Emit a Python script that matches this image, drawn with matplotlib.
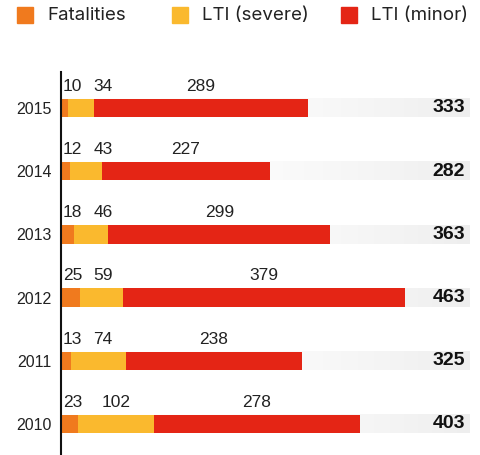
import numpy as np
import matplotlib.pyplot as plt
from matplotlib.patches import Rectangle

years = ['2010', '2011', '2012', '2013', '2014', '2015']
fatalities = [23, 13, 25, 18, 12, 10]
lti_severe = [102, 74, 59, 46, 43, 34]
lti_minor = [278, 238, 379, 299, 227, 289]
totals = [403, 325, 463, 363, 282, 333]

names = ['Fatalities', 'LTI (severe)', 'LTI (minor)']
colors = ['#F07A1E', '#FAB92E', '#E42515']

W, H = 481, 455
fig = plt.figure(figsize=(W / 100, H / 100), dpi=100)
# axes from x=61..470 px, y=72..455 px
ax = fig.add_axes([61 / W, 0, (470 - 61) / W, (455 - 72) / H])
xmax = (470 - 61) / 0.742
ymin = -(455 - 424) / 63.2
ymax = 5 + (108 - 72) / 63.2
bh = 18.5 / 63.2

num_font = 'Liberation Sans'

y = np.arange(len(years))

# grey band with a fade towards the right
grad = np.linspace(0, 1, 256) ** 2
band = np.ones((1, 256, 3)) - grad[None, :, None] * (1 - 0xEE / 255)
for yi in y:
    ax.imshow(band, extent=[0, xmax, yi - bh / 2, yi + bh / 2],
              aspect='auto', interpolation='bilinear', zorder=1)

series = [fatalities, lti_severe, lti_minor]
left = np.zeros(len(years))
for vals, c in zip(series, colors):
    ax.barh(y, vals, left=left, height=bh, color=c, zorder=2)
    left = left + np.array(vals)

# segment labels above the bars, pushed apart when they would collide
renderer = fig.canvas.get_renderer()
for i in y:
    start = 0
    prev_right = 2 / 0.742
    for vals in series:
        v = vals[i]
        cx = start + v / 2
        t = ax.text(cx, i + bh / 2 + 8 / 63.2, str(v), ha='center',
                    va='baseline', fontsize=12.5, family=num_font,
                    color='#222222', zorder=3)
        bb = t.get_window_extent(renderer)
        wdata = bb.width / 0.742
        if cx - wdata / 2 < prev_right:
            cx = prev_right + wdata / 2
            t.set_x(cx)
        prev_right = cx + wdata / 2 + 11 / 0.742
        start += v
    ax.text(xmax - 5 / 0.742, i, str(totals[i]), ha='right', va='center',
            fontsize=14, fontweight='bold', family=num_font, color='#111111',
            zorder=3)

ax.set_xlim(0, xmax)
ax.set_ylim(ymin, ymax)
ax.set_yticks(y)
ax.set_yticklabels(years, family=num_font, fontsize=11.5, color='#222222')
ax.tick_params(axis='y', length=0, pad=7)
ax.set_xticks([])
for s in ['top', 'right', 'bottom']:
    ax.spines[s].set_visible(False)
ax.spines['left'].set_linewidth(1.5)
ax.spines['left'].set_color('#111111')

# legend row at the top
legend_x = [17, 172, 341]
for lx, n, c in zip(legend_x, names, colors):
    fig.patches.append(Rectangle((lx / W, 1 - 23 / H), 16 / W, 16 / H,
                                 transform=fig.transFigure, color=c))
    fig.text((lx + 30) / W, 1 - 15 / H, n, ha='left', va='center',
             fontsize=13.5, family='Inter', color='#222222')

fig.savefig('out.png', dpi=100)
